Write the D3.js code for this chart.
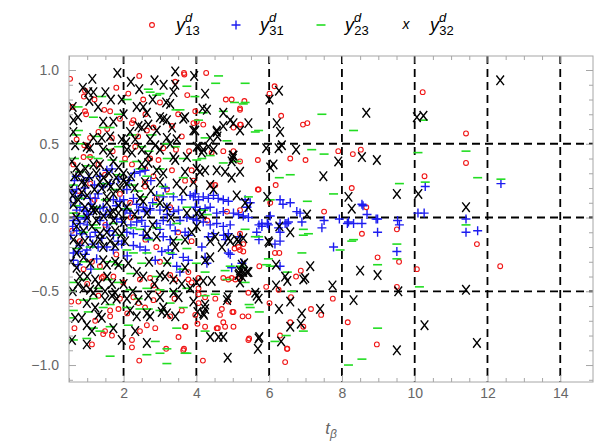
<!DOCTYPE html>
<html>
<head>
<meta charset="utf-8">
<script src="https://cdn.jsdelivr.net/npm/d3@7"></script>
<style>
  body { margin: 0; background: #fff; }
  svg { display: block; font-family: "Liberation Sans", Arial, sans-serif; }
</style>
</head>
<body>
<div id="chart"></div>
<script>
// data: [t_beta, value]
var y13 = [
  [10.22,0.85],[11.41,0.57],[11.41,0.37],[10.27,0.28],[9.51,-0.08],[11.71,-0.18],[9.57,-0.30],[8.98,-0.27],[10.06,-0.35],[12.35,-0.33],[9.51,-0.47],[8.96,-0.86],
  [3.66,0.98],[4.27,0.98],[6.15,0.89],[6.01,0.84],[3.75,0.83],[4.81,0.80],[4.97,0.80],[5.32,0.79],[5.20,0.73],[3.97,0.72],[6.33,0.69],[3.92,0.64],[4.19,0.63],[6.93,0.63],[7.05,0.64],[5.22,0.63],[7.90,0.45],[8.52,0.46],[8.30,0.43],[5.69,0.39],[6.58,0.40],[7.00,0.39],[6.18,0.22],[5.69,0.19],[8.27,0.20],[7.51,0.04],[8.67,0.07],[6.03,0.10],[8.55,-0.11],
  [6.16,-0.24],[6.28,-0.24],[5.73,-0.33],[6.87,-0.36],[6.74,-0.40],[5.92,-0.47],[6.26,-0.49],[7.75,-0.55],[6.60,-0.54],[6.01,-0.58],[7.15,-0.62],[7.43,-0.66],[6.58,-0.71],[6.94,-0.74],[8.16,-0.71],[6.30,-0.80],[6.50,-0.89],[5.45,-0.82],[6.44,-0.98],[4.18,-0.97],[4.59,-0.75],[4.79,-0.74],[3.66,-0.89],[4.03,-0.72],[3.70,-0.74],[4.65,-0.66],[4.99,-0.64],[5.27,-0.67],[5.43,-0.67],[5.43,-0.51],[4.74,-0.41],[4.88,-0.42],[5.07,-0.42],[5.20,-0.41],[5.20,-0.22],[5.29,-0.23],[5.05,-0.21],[5.16,-0.20],
  [0.53,0.94],[2.43,0.96],[3.67,0.97],[3.42,0.92],[0.94,0.86],[0.91,0.82],[2.13,0.84],[2.54,0.80],[3.00,0.78],[0.94,0.72],[0.97,0.70],[1.47,0.73],[1.63,0.72],[2.27,0.66],[2.23,0.64],[1.90,0.67],[2.64,0.59],[2.82,0.61],[3.33,0.62],[1.31,0.58],[1.08,0.54],[1.68,0.54],[0.71,0.53],[0.92,0.49],[1.03,0.48],[2.32,0.48],[3.09,0.47],[3.44,0.46],[0.90,0.41],[1.08,0.41],[2.04,0.40],[2.73,0.40],[2.96,0.39],[0.62,0.36],[1.31,0.36],[2.23,0.36],[2.59,0.33],[3.33,0.32],[3.87,0.32],[1.49,0.29],[2.82,0.28],[2.59,0.24],[3.69,0.25],[1.08,0.23],[3.19,0.19],[2.59,0.21],[1.90,0.16],[2.91,0.13],[0.76,0.18],[2.18,0.10],[3.28,0.07],
  [0.58,-0.09],[0.80,-0.16],[1.13,-0.30],[1.35,-0.33],[1.44,-0.40],[1.40,-0.41],[1.72,-0.40],[1.99,-0.44],[2.45,-0.42],[2.73,-0.41],[2.82,-0.46],[3.28,-0.39],[3.42,-0.42],[3.78,-0.37],[3.78,-0.42],[4.06,-0.41],[4.06,-0.48],[0.56,-0.57],[0.76,-0.57],[1.31,-0.53],[1.63,-0.63],[1.86,-0.62],[2.27,-0.54],[2.41,-0.58],[2.59,-0.61],[2.82,-0.56],[3.28,-0.67],[3.60,-0.63],[4.06,-0.58],[1.22,-0.70],[1.63,-0.67],[1.49,-0.77],[1.44,-0.79],[1.68,-0.80],[2.45,-0.77],[2.64,-0.73],[2.87,-0.75],[3.69,-0.74],[3.51,-0.81],[2.23,-0.83],[2.23,-0.88],[3.17,-0.89],[3.64,-0.90],[1.13,-0.86],[2.43,-0.97],
  [4.01,0.65],[5.20,0.74],[5.02,0.61],[5.20,0.63],[4.42,0.44],[4.74,0.45],[5.02,0.45],[5.20,0.38],[3.92,0.25],[4.42,0.22],[4.52,0.22],[5.71,0.19],[4.84,0.04],[5.20,0.05],[3.87,-0.16],[5.20,-0.11],[5.29,-0.18],[4.97,-0.41],[3.87,-0.44],[4.06,-0.52],[4.24,-0.54],[4.52,-0.55],[4.88,-0.57],[4.70,-0.62],[5.02,-0.64],[3.97,-0.66],[4.24,-0.74],[4.56,-0.75],[5.02,-0.74],[4.74,-0.71],[5.43,-0.83],[6.49,-0.89],
  [0.70,0.02],[1.50,-0.05],[2.20,0.00],[3.50,-0.10],[2.90,-0.20],[1.20,0.12],[4.30,-0.02],[1.80,-0.25],[0.90,-0.35],[2.60,-0.15],
  [0.60,0.75],[1.20,0.80],[1.80,0.88],[2.60,0.70],[3.50,0.70],[0.75,0.30],[1.70,0.45],[2.40,0.55],[3.60,0.55],[1.00,-0.45],[2.10,-0.65],[2.95,-0.50],[3.40,-0.55],[0.65,-0.75],[1.90,-0.55],[3.00,-0.30],[1.55,0.60],[3.80,0.45]
];

var y31 = [
  [10.29,0.21],[12.37,0.23],[10.09,0.03],[10.26,0.03],[11.41,-0.01],[8.98,-0.01],[9.53,-0.02],[9.58,-0.05],[8.98,-0.10],[11.41,-0.10],[11.73,-0.09],[9.51,-0.23],
  [8.58,0.08],[8.69,0.02],[6.58,0.10],[6.38,0.09],[6.30,0.12],[6.76,0.04],[6.85,0.03],[6.90,-0.03],[7.51,-0.02],[7.45,-0.07],[7.93,-0.01],[8.15,-0.04],[8.32,-0.04],[8.55,-0.04],[8.94,-0.01],[6.30,-0.04],[6.44,-0.04],[6.53,-0.03],[5.66,-0.10],[5.72,-0.05],[5.95,-0.04],[6.03,0.01],[7.77,-0.20],
  [6.30,-0.33],[4.97,-0.34],[4.93,-0.25],[4.88,-0.24],[5.72,-0.15],[5.80,-0.06],[5.98,-0.05],[6.16,-0.18],[6.30,-0.16],[6.26,-0.07],[6.30,-0.10],[6.49,-0.04],[8.55,0.09],[8.18,-0.03],[4.80,-0.15],[4.75,-0.12],
  [1.54,0.32],[1.68,0.33],[2.45,0.31],[2.59,0.32],[0.71,0.19],[0.94,0.20],[0.67,0.14],[1.08,0.13],[1.22,0.13],[1.44,0.21],[1.63,0.23],[2.09,0.19],[1.72,0.12],[1.90,0.11],[2.27,0.13],[2.36,0.09],[2.54,0.07],[2.91,0.15],[3.09,0.14],[3.37,0.14],[3.60,0.12],[3.83,0.15],[3.97,0.16],[0.80,0.07],[0.90,0.05],[1.35,0.06],[2.04,0.05],[2.73,0.05],[3.37,0.04],[3.51,0.05],[1.03,0.02],
  [0.71,0.05],[0.99,0.04],[1.17,0.06],[1.44,0.07],[1.63,0.05],[2.09,0.06],[2.18,0.03],[2.41,0.05],[2.59,0.04],[2.73,0.06],[3.00,0.05],[3.19,0.07],[3.55,-0.02],[3.74,0.00],[3.92,-0.01],[0.62,-0.02],[0.80,-0.04],[0.94,-0.01],[1.35,-0.02],[1.54,-0.05],[1.81,-0.01],[1.95,-0.03],[2.36,-0.03],[2.59,-0.06],[2.91,-0.04],[3.09,-0.02],[3.28,-0.05],[3.42,-0.09],[0.71,-0.09],[0.85,-0.11],[1.22,-0.10],[1.08,-0.13],[1.72,-0.12],[2.09,-0.10],[2.27,-0.11],[2.54,-0.12],[2.68,-0.14],[3.09,-0.13],[3.28,-0.15],[3.69,-0.10],[3.78,-0.12],[2.27,-0.19],[2.45,-0.20],[0.80,-0.19],[0.62,-0.24],[0.76,-0.23],[0.99,-0.22],[0.62,-0.29],[1.54,-0.20],[1.72,-0.22],[3.05,-0.23],[3.23,-0.22],[3.64,-0.27],[3.78,-0.29],[3.46,-0.33],[3.55,-0.37],[2.87,-0.29],[1.26,-0.28],
  [3.92,0.14],[4.06,0.12],[4.19,0.14],[4.33,0.13],[4.47,0.15],[4.60,0.13],[4.74,0.12],[4.88,0.11],[3.97,0.07],[4.10,0.05],[4.24,0.06],[4.38,0.07],[4.56,0.03],[4.74,0.04],[5.02,0.03],[5.16,0.02],[5.29,0.01],[5.43,0.00],[4.01,-0.02],[4.19,-0.03],[4.38,-0.05],[4.56,-0.04],[4.74,-0.06],[4.93,-0.05],[5.80,-0.04],[4.33,-0.13],[4.47,-0.11],[4.88,-0.11],[5.20,-0.13],[4.15,-0.20],[5.25,-0.31],[4.24,-0.27],[4.29,-0.31],[5.34,0.12],[5.48,0.10],[5.39,0.07],
  [0.55,0.10],[0.60,-0.06],[0.75,0.00],[0.85,0.15],[1.00,-0.05],[1.10,0.09],[1.30,0.16],[1.40,-0.14],[1.50,0.02],[1.60,-0.09],[1.80,0.08],[1.85,-0.16],[2.00,0.12],[2.20,-0.05],[2.50,-0.02],[2.80,0.10],[3.00,-0.08],[3.20,0.02],[0.65,0.25],[1.15,-0.18],
  [0.58,0.18],[0.70,0.28],[0.90,0.25],[1.05,0.27],[1.20,0.22],[1.35,0.28],[1.85,0.26],[2.15,0.25],[2.30,0.30],[2.75,0.25],[3.15,0.20],[0.55,-0.12],[0.95,-0.25],[1.30,-0.20],[1.95,-0.18],[2.10,-0.26],[2.60,-0.22],[3.35,-0.25],[0.75,-0.32],[1.10,-0.35]
];

var y23 = [
  [10.24,0.66],[10.09,0.44],[11.41,0.45],[11.73,0.27],[10.29,0.24],[12.37,0.26],[9.58,0.23],[11.41,-0.05],[9.51,-0.18],[9.51,-0.28],[8.98,-0.32],[10.13,-0.47],[8.98,-0.75],
  [4.61,0.96],[4.53,0.91],[5.34,0.91],[3.96,0.82],[5.05,0.78],[5.34,0.78],[7.45,0.70],[4.06,0.66],[5.71,0.59],[5.62,0.58],[8.32,0.59],[4.84,0.52],[4.24,0.54],[7.17,0.46],[7.51,0.43],[6.58,0.29],[6.28,0.27],[7.77,0.16],[7.05,0.11],[6.03,0.12],[8.27,-0.16],[6.94,-0.12],
  [7.95,-0.22],[6.90,-0.24],[5.98,-0.28],[6.03,-0.33],[5.93,-0.32],[6.50,-0.37],[6.62,-0.50],[6.94,-0.77],[6.47,-0.80],[6.16,-0.84],[8.55,-0.96],[8.18,-1.00],[4.24,-0.77],[3.69,-0.92],[5.48,-0.61],[5.45,-0.59],[5.73,-0.64],[4.79,-0.36],[4.93,-0.33],[5.20,-0.33],[5.25,-0.34],[5.71,-0.13],[5.62,-0.13],[5.34,-0.08],[7.08,-0.11],[6.94,-0.08],[8.32,-0.15],
  [2.68,0.87],[2.73,0.85],[3.00,0.84],[2.91,0.83],[3.74,0.89],[3.44,0.73],[3.55,0.73],[1.17,0.68],[1.86,0.70],[0.76,0.59],[0.71,0.56],[1.44,0.61],[1.63,0.61],[1.26,0.55],[2.23,0.56],[2.78,0.56],[3.19,0.50],[0.80,0.50],[1.54,0.46],[1.86,0.48],[2.50,0.48],[3.42,0.48],[1.08,0.41],[2.36,0.38],[1.68,0.39],[3.64,0.40],[3.00,0.33],[2.45,0.33],[4.01,0.39],[0.80,0.31],[1.86,0.29],[2.64,0.28],[3.64,0.27],[0.62,0.22],[1.44,0.23],[2.23,0.22],[3.09,0.21],[1.77,0.19],[0.80,0.13],[2.54,0.14],[3.28,0.16],[1.26,0.07],[2.09,0.06],[2.91,0.09],[3.74,0.07],
  [0.62,0.03],[0.80,0.01],[1.17,-0.05],[1.26,-0.07],[1.72,-0.04],[2.23,-0.07],[2.45,-0.08],[2.91,-0.07],[3.46,-0.04],[0.71,-0.21],[1.08,-0.20],[2.09,-0.22],[2.27,-0.24],[2.64,-0.24],[3.28,-0.24],[3.74,-0.21],[0.90,-0.30],[1.63,-0.30],[1.86,-0.32],[2.50,-0.31],[3.19,-0.31],[0.62,-0.44],[0.90,-0.42],[1.86,-0.44],[1.58,-0.42],[2.18,-0.49],[2.64,-0.48],[3.00,-0.49],[3.37,-0.50],[3.74,-0.48],[1.17,-0.55],[0.90,-0.56],[1.63,-0.59],[1.44,-0.61],[2.09,-0.61],[2.45,-0.62],[2.68,-0.62],[3.00,-0.63],[3.28,-0.58],[3.64,-0.61],[0.62,-0.63],[1.03,-0.64],[0.53,-0.68],[1.17,-0.75],[1.35,-0.77],[1.63,-0.74],[2.13,-0.73],[2.87,-0.84],[3.46,-0.75],[0.99,-0.82],[0.62,-0.83],[2.64,-0.93],[3.00,-0.92],[1.63,-0.94],[3.19,-0.99],[3.74,-0.92],[3.19,-0.89],
  [4.15,0.40],[4.38,0.42],[4.74,0.37],[5.11,0.38],[5.43,0.14],[4.20,0.05],[4.30,0.02],[4.00,-0.31],[4.24,-0.37],[4.84,-0.42],[5.34,-0.44],[4.24,-0.53],[4.52,-0.52],[4.19,0.71],[4.74,0.72],[5.29,0.77],
  [0.65,0.40],[1.00,0.35],[1.30,0.40],[2.00,0.38],[2.70,0.45],[3.20,0.40],[0.70,0.08],[1.50,0.12],[2.40,0.18],[3.00,0.15],[0.90,-0.10],[1.90,-0.12],[2.70,-0.15],[3.50,-0.15],[1.30,-0.35],[2.20,-0.38],[2.90,-0.40],[3.60,-0.35],[0.75,0.75],[1.40,0.82],[2.10,0.80],[0.55,-0.50],[1.30,-0.48],[2.40,-0.55]
];

var y32 = [
  [12.35,0.93],[10.06,0.68],[10.24,0.69],[8.96,0.39],[9.51,0.16],[10.10,0.16],[11.41,0.07],[8.98,-0.39],[9.55,-0.50],[11.41,-0.49],[10.27,-0.73],[9.51,-0.90],[11.71,-0.85],
  [3.94,0.96],[6.27,0.86],[6.01,0.80],[4.24,0.84],[4.17,0.74],[4.29,0.73],[8.67,0.71],[3.64,0.67],[4.74,0.71],[4.93,0.66],[5.02,0.64],[5.43,0.64],[6.21,0.64],[3.97,0.59],[4.56,0.59],[4.74,0.62],[6.30,0.58],[4.58,0.55],[4.38,0.54],[4.06,0.48],[4.15,0.44],[4.33,0.48],[4.47,0.46],[5.92,0.47],[6.26,0.47],[6.35,0.49],[6.74,0.46],[8.55,0.41],[7.90,0.38],[5.00,0.42],[5.00,0.40],[6.03,0.34],[6.12,0.36],[7.49,0.28],[8.18,0.14],[8.27,0.06],[7.04,0.02],[6.58,-0.10],[5.98,-0.16],[5.95,0.14],
  [6.00,-0.17],[6.19,-0.32],[7.13,-0.33],[8.50,-0.36],[6.44,-0.40],[6.50,-0.43],[6.94,-0.42],[6.99,-0.41],[6.19,-0.46],[7.74,-0.46],[8.32,-0.56],[6.58,-0.57],[6.27,-0.62],[6.90,-0.65],[7.40,-0.62],[6.87,-0.72],[6.58,-0.74],[6.33,-0.84],[5.73,-0.81],[5.69,-0.89],[4.86,-0.95],[4.38,-0.81],[4.74,-0.81],[4.03,-0.64],[4.21,-0.66],[4.24,-0.62],[5.66,-0.53],[5.71,-0.55],[5.62,-0.51],[4.86,-0.54],[4.84,-0.56],[5.18,-0.38],[5.29,-0.37],[5.43,-0.37],[5.25,-0.40],[5.20,-0.44],[5.31,-0.31],[5.25,-0.32],[4.88,-0.14],[4.93,-0.16],[5.16,-0.16],[6.28,-0.06],
  [1.14,0.94],[1.83,0.98],[3.42,0.99],[2.85,0.93],[2.43,0.87],[0.88,0.88],[1.03,0.85],[1.17,0.85],[1.06,0.79],[1.65,0.80],[1.95,0.80],[3.37,0.85],[3.42,0.90],[2.36,0.75],[2.54,0.75],[3.17,0.78],[3.28,0.77],[3.69,0.68],[2.64,0.71],[3.00,0.68],[3.09,0.67],[3.19,0.66],[1.44,0.65],[1.72,0.65],[0.62,0.66],[2.41,0.62],[2.50,0.61],[2.68,0.63],[2.91,0.59],[3.33,0.61],[2.18,0.58],[0.62,0.58],[1.17,0.54],[1.40,0.54],[1.63,0.55],[1.95,0.53],[2.07,0.51],[2.32,0.53],[2.73,0.53],[2.87,0.49],[3.19,0.54],[3.28,0.50],[3.46,0.53],[0.67,0.49],[0.99,0.48],[1.08,0.47],[1.44,0.46],[1.63,0.44],[2.09,0.46],[2.23,0.44],[2.50,0.46],[2.68,0.42],[3.00,0.46],[3.74,0.41],[3.37,0.41],[3.42,0.39],[0.58,0.38],[0.71,0.34],[1.17,0.36],[1.35,0.36],[1.72,0.38],[1.86,0.34],[2.50,0.36],[2.68,0.37],[2.91,0.32],[3.09,0.30],[3.69,0.31],[0.85,0.24],[0.94,0.23],[1.35,0.24],[1.58,0.23],[1.99,0.25],[2.09,0.23],[2.59,0.24],[3.00,0.24],[3.46,0.23],[3.64,0.18],[1.72,0.16],[1.54,0.14],[2.45,0.13],[2.54,0.11],[0.76,0.12],[3.00,0.10],[3.19,0.07],[1.13,0.07],[1.26,0.05],[1.72,0.04],[1.86,0.03],[3.74,0.03],[2.64,0.03],
  [0.62,0.09],[0.94,0.07],[1.17,0.05],[1.54,0.10],[1.86,0.08],[2.09,0.07],[1.63,0.03],[1.72,-0.02],[0.71,-0.06],[0.90,-0.09],[1.13,-0.06],[1.35,-0.11],[1.54,-0.10],[1.77,-0.09],[1.95,-0.11],[0.62,-0.15],[0.76,-0.18],[0.94,-0.16],[1.17,-0.18],[1.35,-0.15],[1.44,-0.20],[1.63,-0.16],[1.77,-0.19],[2.04,-0.16],[2.64,-0.11],[2.91,-0.13],[3.37,-0.16],[3.42,-0.20],[3.69,-0.15],[0.71,-0.24],[0.90,-0.27],[1.44,-0.29],[1.54,-0.32],[1.77,-0.30],[1.86,-0.32],[0.71,-0.34],[1.08,-0.31],[2.13,-0.31],[2.36,-0.37],[2.54,-0.40],[3.00,-0.39],[3.14,-0.40],[3.37,-0.42],[3.69,-0.34],[1.22,-0.42],[1.31,-0.45],[1.68,-0.45],[0.90,-0.48],[1.08,-0.49],[1.17,-0.51],[1.49,-0.50],[1.68,-0.53],[1.77,-0.51],[1.81,-0.55],[2.09,-0.55],[2.41,-0.56],[2.68,-0.53],[3.00,-0.54],[3.09,-0.61],[3.37,-0.51],[3.51,-0.54],[3.83,-0.48],[0.99,-0.58],[1.22,-0.61],[1.49,-0.56],[2.18,-0.63],[2.36,-0.67],[2.64,-0.65],[2.73,-0.67],[3.05,-0.64],[3.19,-0.65],[3.42,-0.67],[0.67,-0.68],[0.85,-0.68],[0.99,-0.73],[1.13,-0.77],[1.31,-0.66],[1.40,-0.68],[1.72,-0.75],[1.95,-0.83],[2.32,-0.77],[2.64,-0.85],[0.99,-0.86],[0.58,-0.83],
  [5.20,0.59],[3.92,0.59],[4.56,0.58],[4.01,0.48],[4.19,0.46],[5.02,0.42],[4.97,0.38],[4.01,0.33],[4.10,0.31],[4.24,0.32],[4.56,0.32],[4.79,0.31],[4.97,0.27],[5.20,0.31],[3.92,0.24],[4.38,0.22],[4.47,0.19],[5.11,0.15],[5.34,0.10],[5.43,0.07],[4.01,0.03],[4.15,0.02],[3.87,-0.10],[4.01,-0.06],[4.38,-0.16],[4.52,-0.13],[4.70,-0.20],[5.11,-0.15],[5.29,-0.14],[4.24,-0.29],[4.38,-0.27],[5.20,-0.36],[5.39,-0.37],[5.16,-0.39],[4.01,-0.44],[4.19,-0.43],[4.42,-0.43],[3.92,-0.57],[4.24,-0.59],[4.19,-0.65],[4.61,-0.81],[5.71,-0.82],
  [0.55,0.20],[0.65,0.28],[0.80,0.30],[0.95,0.33],[1.05,0.28],[1.25,0.30],[1.45,0.27],[1.60,0.30],[1.80,0.27],[2.00,0.30],[2.20,0.28],[0.60,0.15],[0.85,0.17],[1.00,0.15],[1.20,0.19],[1.40,0.20],[1.65,0.21],[1.90,0.20],[2.30,0.20],[2.75,0.18],[0.70,0.00],[1.00,0.00],[1.25,-0.02],[1.45,0.01],[2.00,-0.03],[2.30,0.02],[2.80,-0.05],[3.30,0.00],[0.55,-0.30],[0.80,-0.40],[1.00,-0.40],[1.55,-0.40],[2.00,-0.45],[2.70,-0.30],[3.20,-0.30],[0.60,-0.50],[0.75,-0.45],[2.25,-0.50],[2.85,-0.45],[3.60,-0.45],[0.60,0.75],[0.75,0.68],[1.30,0.75],[2.00,0.70],[2.80,0.80],[1.50,0.85],[2.20,0.92],[3.10,0.90]
];

var seriesNames = ["13", "31", "23", "32"];
var xTicks = [2, 4, 6, 8, 10, 12, 14];
var yTicks = [-1, -0.5, 0, 0.5, 1];
var xGrid = [2, 4, 6, 8, 10, 12, 14];
var yGrid = [-0.5, 0, 0.5];

var W = 599, H = 448;
var plotL = 69, plotR = 593, plotT = 56, plotB = 382;

var svg = d3.select("#chart").append("svg")
    .attr("width", W)
    .attr("height", H);

var x = d3.scaleLinear().domain([0.5, 14.9]).range([plotL, plotR]);
var y = d3.scaleLinear().domain([-1.115, 1.095]).range([plotB, plotT]);

var xMinor = d3.range(1, 29).map(function(v){ return v / 2; })
    .filter(function(v){ return v % 2 !== 0; });
var yMinor = d3.range(-11, 11).map(function(v){ return v / 10; })
    .filter(function(v){ return Math.abs(v * 2 - Math.round(v * 2)) > 1e-6; });

svg.append("defs").append("clipPath").attr("id", "clip")
  .append("rect")
    .attr("x", plotL).attr("y", plotT)
    .attr("width", plotR - plotL).attr("height", plotB - plotT);

// dashed grid lines
var grid = svg.append("g").attr("clip-path", "url(#clip)")
    .attr("stroke", "#000")
    .attr("stroke-width", 1.8)
    .attr("stroke-dasharray", "8,5");

grid.selectAll(".gx").data(xGrid).enter().append("line")
    .attr("x1", function(d){ return x(d); })
    .attr("x2", function(d){ return x(d); })
    .attr("y1", plotT).attr("y2", plotB);

grid.selectAll(".gy").data(yGrid).enter().append("line")
    .attr("y1", function(d){ return y(d); })
    .attr("y2", function(d){ return y(d); })
    .attr("x1", plotL).attr("x2", plotR);

// markers
var plot = svg.append("g").attr("clip-path", "url(#clip)");

plot.append("g").selectAll("circle").data(y13).enter().append("circle")
    .attr("cx", function(d){ return x(d[0]); })
    .attr("cy", function(d){ return y(d[1]); })
    .attr("r", 2.4)
    .attr("fill", "none")
    .attr("stroke", "#f01414")
    .attr("stroke-width", 1.1);

plot.append("g").selectAll("path").data(y31).enter().append("path")
    .attr("transform", function(d){ return "translate(" + x(d[0]) + "," + y(d[1]) + ")"; })
    .attr("d", "M-4.5,0H4.5M0,-4.5V4.5")
    .attr("stroke", "#1c1cf0")
    .attr("stroke-width", 1.4);

plot.append("g").selectAll("path").data(y23).enter().append("path")
    .attr("transform", function(d){ return "translate(" + x(d[0]) + "," + y(d[1]) + ")"; })
    .attr("d", "M-4.5,0H4.5")
    .attr("stroke", "#22dd22")
    .attr("stroke-width", 1.6);

plot.append("g").selectAll("path").data(y32).enter().append("path")
    .attr("transform", function(d){ return "translate(" + x(d[0]) + "," + y(d[1]) + ")"; })
    .attr("d", "M-3.8,-4.8L3.8,4.8M-3.8,4.8L3.8,-4.8")
    .attr("stroke", "#000")
    .attr("stroke-width", 1.4);

// frame and ticks
var frameColor = "#a6a6a6", labelColor = "#666";

function styleAxis(g) {
  g.select(".domain").remove();
  g.selectAll(".tick line").attr("stroke", frameColor);
  g.selectAll(".tick text").attr("fill", labelColor).style("font-size", "14px");
}

svg.append("g").attr("transform", "translate(0," + plotB + ")")
    .call(d3.axisBottom(x).tickValues(xTicks).tickSize(-7).tickPadding(6).tickFormat(d3.format("d")))
    .call(styleAxis);
svg.append("g").attr("transform", "translate(0," + plotB + ")")
    .call(d3.axisBottom(x).tickValues(xMinor).tickSize(-4).tickFormat(""))
    .call(styleAxis);
svg.append("g").attr("transform", "translate(0," + plotT + ")")
    .call(d3.axisTop(x).tickValues(xTicks).tickSize(-7).tickFormat(""))
    .call(styleAxis);
svg.append("g").attr("transform", "translate(0," + plotT + ")")
    .call(d3.axisTop(x).tickValues(xMinor).tickSize(-4).tickFormat(""))
    .call(styleAxis);

svg.append("g").attr("transform", "translate(" + plotL + ",0)")
    .call(d3.axisLeft(y).tickValues(yTicks).tickSize(-7).tickPadding(10).tickFormat(d3.format(".1f")))
    .call(styleAxis);
svg.append("g").attr("transform", "translate(" + plotL + ",0)")
    .call(d3.axisLeft(y).tickValues(yMinor).tickSize(-4).tickFormat(""))
    .call(styleAxis);
svg.append("g").attr("transform", "translate(" + plotR + ",0)")
    .call(d3.axisRight(y).tickValues(yTicks).tickSize(-7).tickFormat(""))
    .call(styleAxis);
svg.append("g").attr("transform", "translate(" + plotR + ",0)")
    .call(d3.axisRight(y).tickValues(yMinor).tickSize(-4).tickFormat(""))
    .call(styleAxis);

svg.append("rect")
    .attr("x", plotL).attr("y", plotT)
    .attr("width", plotR - plotL).attr("height", plotB - plotT)
    .attr("fill", "none")
    .attr("stroke", frameColor)
    .attr("stroke-width", 1);

// x axis label
var xl = svg.append("text")
    .attr("x", (plotL + plotR) / 2)
    .attr("y", 434)
    .attr("text-anchor", "middle")
    .attr("fill", labelColor)
    .style("font-size", "17px");
xl.append("tspan").style("font-style", "italic").text("t");
xl.append("tspan").style("font-style", "italic").style("font-size", "12px").attr("dy", 4).text("β");

// legend
var legX = d3.scaleOrdinal().domain(seriesNames).range([152, 236, 321, 406]);
var legY = 25;
var leg = svg.append("g");

leg.append("circle").attr("cx", legX("13")).attr("cy", legY).attr("r", 2.4)
    .attr("fill", "none").attr("stroke", "#f01414").attr("stroke-width", 1.1);
leg.append("path").attr("transform", "translate(" + legX("31") + "," + legY + ")")
    .attr("d", "M-4.5,0H4.5M0,-4.5V4.5").attr("stroke", "#1c1cf0").attr("stroke-width", 1.4);
leg.append("path").attr("transform", "translate(" + legX("23") + "," + legY + ")")
    .attr("d", "M-4.5,0H4.5").attr("stroke", "#22dd22").attr("stroke-width", 1.6);
leg.append("text").attr("x", legX("32")).attr("y", legY + 4)
    .attr("text-anchor", "middle").style("font-size", "14px").style("font-style", "italic")
    .text("x");

seriesNames.forEach(function(s){
  var t = leg.append("text")
      .attr("x", legX(s) + 24)
      .attr("y", legY + 6)
      .attr("fill", "#000")
      .style("font-size", "18px");
  t.append("tspan").style("font-style", "italic").text("y");
  t.append("tspan").style("font-style", "italic").style("font-size", "13px").attr("dy", -9).text("d");
  t.append("tspan").style("font-size", "13px").attr("dx", -7).attr("dy", 13).text(s);
});
</script>
</body>
</html>
